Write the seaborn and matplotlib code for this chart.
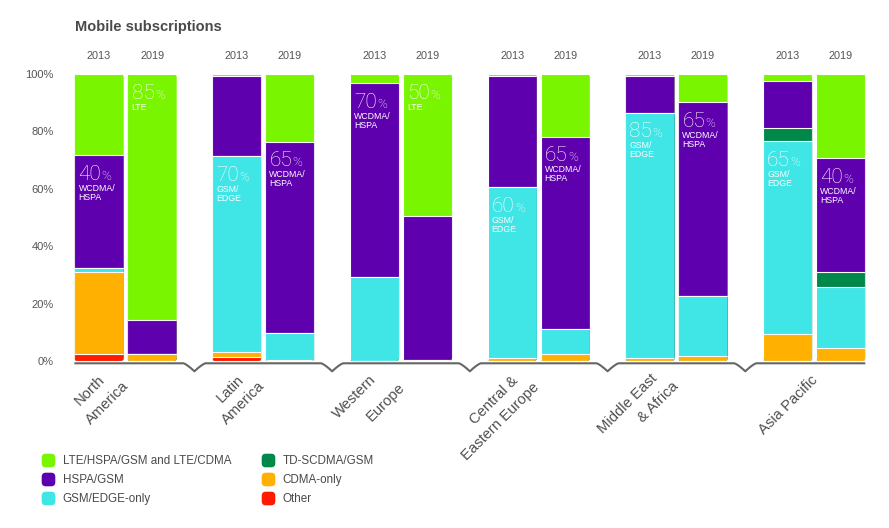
import numpy as np
import pandas as pd
import matplotlib
matplotlib.use("Agg")
import matplotlib.pyplot as plt
import matplotlib.transforms as mtransforms
import seaborn as sns
from matplotlib.patches import FancyBboxPatch
from matplotlib.lines import Line2D
from matplotlib.offsetbox import TextArea, HPacker, VPacker, AnnotationBbox

# ---------------- data ----------------
regions = ["North America", "Latin America", "Western Europe",
           "Central & Eastern Europe", "Middle East & Africa", "Asia Pacific"]
region_label_lines = [["North", "America"], ["Latin", "America"], ["Western", "Europe"],
                      ["Central &", "Eastern Europe"], ["Middle East", "& Africa"],
                      ["Asia Pacific"]]
years = ["2013", "2019"]
technologies = ["LTE/HSPA/GSM and LTE/CDMA", "HSPA/GSM", "GSM/EDGE-only",
                "TD-SCDMA/GSM", "CDMA-only", "Other"]
tech_colors = ["#79f500", "#5e00ad", "#40e5e5", "#00874a", "#ffb000", "#ff1a00"]
# stacking order, bottom -> top
stack_order = ["Other", "CDMA-only", "GSM/EDGE-only", "TD-SCDMA/GSM", "HSPA/GSM",
               "LTE/HSPA/GSM and LTE/CDMA"]

# shares (%) per region, order as in `regions`
lte_2013 = [28.2, 0.8, 3.2, 0.8, 0.8, 2.4]
lte_2019 = [85.6, 23.6, 49.5, 21.8, 9.9, 29.4]
hspa_2013 = [39.5, 27.7, 67.4, 38.7, 12.7, 16.5]
hspa_2019 = [12.1, 66.5, 50.1, 67.1, 67.3, 39.7]
gsm_2013 = [1.2, 68.5, 29.4, 59.3, 85.3, 67.4]
gsm_2019 = [0.0, 9.5, 0.4, 8.8, 21.1, 21.3]
td_2013 = [0.0, 0.0, 0.0, 0.0, 0.0, 4.4]
td_2019 = [0.0, 0.0, 0.0, 0.0, 0.0, 5.2]
cdma_2013 = [28.8, 1.5, 0.0, 1.2, 1.2, 9.3]
cdma_2019 = [2.3, 0.4, 0.0, 2.3, 1.7, 4.4]
other_2013 = [2.3, 1.5, 0.0, 0.0, 0.0, 0.0]
other_2019 = [0.0, 0.0, 0.0, 0.0, 0.0, 0.0]

# in-bar callouts
callout_region = [0, 0, 1, 1, 2, 2, 3, 3, 4, 4, 5, 5]
callout_year = ["2013", "2019"] * 6
callout_tech = ["HSPA/GSM", "LTE/HSPA/GSM and LTE/CDMA", "GSM/EDGE-only", "HSPA/GSM",
                "HSPA/GSM", "LTE/HSPA/GSM and LTE/CDMA", "GSM/EDGE-only", "HSPA/GSM",
                "GSM/EDGE-only", "HSPA/GSM", "GSM/EDGE-only", "HSPA/GSM"]
callout_value = ["40", "85", "70", "65", "70", "50", "60", "65", "85", "65", "65", "40"]
callout_desc = ["WCDMA/\nHSPA", "LTE", "GSM/\nEDGE", "WCDMA/\nHSPA", "WCDMA/\nHSPA", "LTE",
                "GSM/\nEDGE", "WCDMA/\nHSPA", "GSM/\nEDGE", "WCDMA/\nHSPA", "GSM/\nEDGE",
                "WCDMA/\nHSPA"]

shares = {
    "LTE/HSPA/GSM and LTE/CDMA": (lte_2013, lte_2019),
    "HSPA/GSM": (hspa_2013, hspa_2019),
    "GSM/EDGE-only": (gsm_2013, gsm_2019),
    "TD-SCDMA/GSM": (td_2013, td_2019),
    "CDMA-only": (cdma_2013, cdma_2019),
    "Other": (other_2013, other_2019),
}

rows = []
for tech, (s13, s19) in shares.items():
    for i, r in enumerate(regions):
        rows.append((r, "2013", tech, s13[i]))
        rows.append((r, "2019", tech, s19[i]))
df = pd.DataFrame(rows, columns=["region", "year", "tech", "share"])
df["tech"] = pd.Categorical(df["tech"], categories=stack_order, ordered=True)
df = df.sort_values(["region", "year", "tech"])
df["top"] = df.groupby(["region", "year"], observed=True)["share"].cumsum()

color_of = dict(zip(technologies, tech_colors))

# ---------------- figure ----------------
sns.set_style("white")
plt.rcParams["font.family"] = ["Liberation Sans", "DejaVu Sans"]

W, H = 889, 528
fig = plt.figure(figsize=(W / 100, H / 100), dpi=100)
ax = fig.add_axes([56.7 / W, 1 - 361 / H, 826.3 / W, 287 / H])

for tech in stack_order[::-1]:  # tallest cumulative first
    layer = df[df["tech"] == tech]
    c = color_of[tech]
    sns.barplot(data=layer, x="region", y="top", hue="year", order=regions,
                hue_order=years, palette=[c, c], width=0.77, gap=0.07,
                dodge=True, saturation=1, errorbar=None, edgecolor="white",
                linewidth=0.8, legend=False, ax=ax)

ax.set_xlim(-0.5, len(regions) - 0.5)
ax.set_ylim(0, 100)
ax.set_xlabel("")
ax.set_ylabel("")
ax.set_xticks([])
ax.set_yticks([0, 20, 40, 60, 80, 100])
ax.set_yticklabels([f"{v}%" for v in [0, 20, 40, 60, 80, 100]], color="#555555", fontsize=8)
ax.tick_params(axis="y", length=0, pad=2)
for s in ax.spines.values():
    s.set_visible(False)

# rounded bar ends via clip paths
fig.canvas.draw()
p0 = ax.transData.transform((0, 0))
p1 = ax.transData.transform((1, 1))
px_x, px_y = p1[0] - p0[0], p1[1] - p0[1]
r_px = 3.5
columns = {}
for p in ax.patches:
    key = round(p.get_x(), 4)
    columns.setdefault(key, p.get_width())
col_keys = sorted(columns)
clips = {}
for k in col_keys:
    w = columns[k]
    clips[k] = FancyBboxPatch((k, 0), w, 100,
                              boxstyle=f"round,pad=0,rounding_size={r_px / px_x}",
                              mutation_aspect=px_x / px_y, transform=ax.transData)
for p in ax.patches:
    p.set_clip_path(clips[round(p.get_x(), 4)])

# year labels above bars
col_centers = [k + columns[k] / 2 for k in col_keys]
for j, cx in enumerate(col_centers):
    ax.text(cx, 106.3, years[j % 2], ha="center", va="center", fontsize=7.8,
            color="#555555", clip_on=False)

# baseline with notches between regions
x_left = col_keys[0]
x_right = col_keys[-1] + columns[col_keys[-1]]
base_y = -0.8
notch_w = 11 / px_x
notch_d = 8.0 / px_y
xs, ys = [x_left], [base_y]
for i in range(len(regions) - 1):
    c = i + 0.5
    t = np.linspace(-1, 1, 41)
    xs.extend(c + t * notch_w)
    ys.extend(base_y - notch_d * (1 - np.abs(t)) ** 1.3)
xs.append(x_right)
ys.append(base_y)
ax.plot(xs, ys, color="#666666", lw=1.5, clip_on=False, solid_capstyle="butt")

# region labels (rotated, two lines)
label_offsets_px = [[(-35.5, 29), (-18.2, 42.3)],
                    [(-33, 27.3), (-19.7, 42.3)],
                    [(-46.7, 35.7), (-15, 40.7)],
                    [(-44.7, 39), (-38, 60.7)],
                    [(-48.7, 42.3), (-18.7, 40.7)],
                    [(-25.7, 44)]]
blend = mtransforms.blended_transform_factory(ax.transData, ax.transAxes)
for i, lines in enumerate(region_label_lines):
    for line, (dx, dy) in zip(lines, label_offsets_px[i]):
        tr = blend + mtransforms.ScaledTranslation(dx / 100, -dy / 100, fig.dpi_scale_trans)
        ax.text(i, 0, line, transform=tr, rotation=45, rotation_mode="anchor",
                ha="center", va="center", fontsize=10.6, color="#4f4f4f", clip_on=False)

# callouts inside bars
tops = df.set_index(["region", "year", "tech"])["top"]
for ri, yr, tech, val, desc in zip(callout_region, callout_year, callout_tech,
                                   callout_value, callout_desc):
    col = col_keys[ri * 2 + years.index(yr)]
    top = tops[(regions[ri], yr, tech)]
    num = TextArea(val, textprops=dict(color="white", fontsize=15, family="Roboto",
                                       fontweight="light"))
    pct = TextArea("%", textprops=dict(color="white", fontsize=9.5, family="Roboto",
                                       fontweight="light"))
    row = HPacker(children=[num, pct], align="baseline", pad=0, sep=0.3)
    d = TextArea(desc, textprops=dict(color="white", fontsize=6.3, linespacing=1.0))
    box = VPacker(children=[row, d], align="left", pad=0, sep=0)
    ab = AnnotationBbox(box, (col, top), xybox=(3.0, -7.0), xycoords="data",
                        boxcoords="offset points", box_alignment=(0, 1),
                        frameon=False, pad=0)
    ax.add_artist(ab)

# title
fig.text(75 / W, 1 - 31.5 / H, "Mobile subscriptions", fontsize=10.5, fontweight="bold",
         color="#4a4a4a", va="baseline", ha="left")

# legend with rounded-square markers
marker_path = FancyBboxPatch((-0.5, -0.5), 1, 1,
                             boxstyle="round,pad=0,rounding_size=0.3").get_path()
handles = [Line2D([0], [0], marker=marker_path, linestyle="None", markersize=9.8,
                  markerfacecolor=color_of[t], markeredgewidth=0) for t in technologies]
fig.legend(handles, technologies, loc="upper left", bbox_to_anchor=(41 / W, 1 - 455 / H),
           bbox_transform=fig.transFigure, ncol=2, frameon=False, fontsize=8.4,
           handlelength=1.15, handletextpad=0.7, columnspacing=2.55, labelspacing=0.62,
           borderpad=0, borderaxespad=0, labelcolor="#4a4a4a")

fig.savefig("out.png", dpi=100)
